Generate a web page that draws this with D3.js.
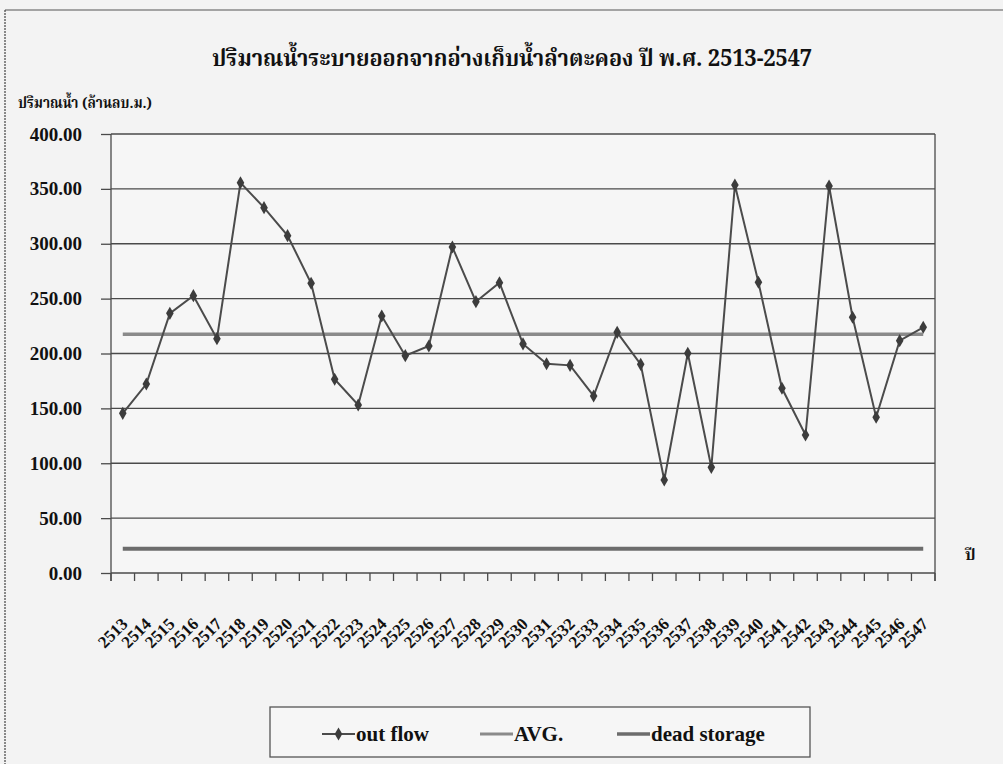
<!DOCTYPE html>
<html>
<head>
<meta charset="utf-8">
<script src="https://cdn.jsdelivr.net/npm/d3@7"></script>
<style>
  html, body { margin: 0; padding: 0; background: #f3f3f3; }
  svg { display: block; }
  .latin { font-family: "Liberation Serif", "Times New Roman", serif; font-weight: bold; fill: #111; }
  .thai { font-family: "Noto Serif Thai", "Noto Sans Thai", "Loma", "Garuda", "Liberation Serif", serif; font-weight: bold; fill: #111; }
</style>
</head>
<body>
<div id="chart"></div>
<script>
// Water released from Lam Takhong reservoir, B.E. 2513-2547 (million m³)
const years = ["2513","2514","2515","2516","2517","2518","2519","2520","2521","2522",
  "2523","2524","2525","2526","2527","2528","2529","2530","2531","2532",
  "2533","2534","2535","2536","2537","2538","2539","2540","2541","2542",
  "2543","2544","2545","2546","2547"];
const outFlow = [145.5,172.2,236.6,252.7,213.5,355.6,332.9,307.4,264.0,176.5,
  153.1,234.2,198.0,206.8,297.0,247.2,264.5,208.7,190.7,189.2,
  161.3,219.3,190.1,84.7,200.2,96.3,353.5,264.9,168.3,125.7,
  352.6,233.0,141.9,211.7,223.9];
const avgValue = 217.5;
const deadStorage = 22;
const yTicks = [0, 50, 100, 150, 200, 250, 300, 350, 400];
const legendItems = ["out flow", "AVG.", "dead storage"];

const W = 1003, H = 764;
const plot = { left: 111, right: 935, top: 134, bottom: 573 };

const svg = d3.select("#chart").append("svg").attr("width", W).attr("height", H);

// chart frame
svg.append("line").attr("x1", 5).attr("x2", W).attr("y1", 10).attr("y2", 10)
  .attr("stroke", "#555").attr("stroke-width", 1.2);
svg.append("line").attr("x1", 5).attr("x2", 5).attr("y1", 10).attr("y2", H)
  .attr("stroke", "#444").attr("stroke-width", 1.2).attr("stroke-dasharray", "2,1");

const x = d3.scaleBand().domain(years).range([plot.left, plot.right]).padding(0);
const cx = d => x(d) + x.bandwidth() / 2;
const y = d3.scaleLinear().domain([0, 400]).range([plot.bottom, plot.top]);

// plot area
svg.append("rect").attr("x", plot.left).attr("y", plot.top)
  .attr("width", plot.right - plot.left).attr("height", plot.bottom - plot.top)
  .attr("fill", "#f6f6f6");

// horizontal gridlines
svg.append("g").selectAll("line").data(yTicks).join("line")
  .attr("x1", plot.left).attr("x2", plot.right)
  .attr("y1", d => y(d)).attr("y2", d => y(d))
  .attr("stroke", "#4a4a4a").attr("stroke-width", 1.3);

// right border of plot area
svg.append("line").attr("x1", plot.right).attr("x2", plot.right)
  .attr("y1", plot.top).attr("y2", plot.bottom + 8)
  .attr("stroke", "#4a4a4a").attr("stroke-width", 1.3);

// y axis
const yAxis = svg.append("g").attr("transform", `translate(${plot.left},0)`)
  .call(d3.axisLeft(y).tickValues(yTicks).tickSize(10).tickPadding(19).tickFormat(d3.format(".2f")));
yAxis.select(".domain").attr("stroke", "#4a4a4a").attr("stroke-width", 1.3)
  .attr("d", `M0,${plot.top}V${plot.bottom + 8}`);
yAxis.selectAll(".tick line").attr("stroke", "#4a4a4a").attr("stroke-width", 1.3);
yAxis.selectAll(".tick text").attr("class", "latin").style("font-size", "19px");

// x axis ticks at category boundaries
const xTickPos = years.map(d => x(d)).concat([plot.right]);
svg.append("g").selectAll("line").data(xTickPos).join("line")
  .attr("x1", d => d).attr("x2", d => d)
  .attr("y1", plot.bottom).attr("y2", plot.bottom + 8)
  .attr("stroke", "#4a4a4a").attr("stroke-width", 1.3);

// x labels, rotated
svg.append("g").selectAll("text").data(years).join("text")
  .attr("class", "latin")
  .attr("text-anchor", "end")
  .attr("transform", d => `translate(${cx(d) + 6},${plot.bottom + 52}) rotate(-45)`)
  .style("font-size", "17px")
  .text(d => d);

// dead storage and average lines
const first = years[0], last = years[years.length - 1];
svg.append("line")
  .attr("x1", cx(first)).attr("x2", cx(last))
  .attr("y1", y(deadStorage)).attr("y2", y(deadStorage))
  .attr("stroke", "#6c6c6c").attr("stroke-width", 4);
svg.append("line")
  .attr("x1", cx(first)).attr("x2", cx(last))
  .attr("y1", y(avgValue)).attr("y2", y(avgValue))
  .attr("stroke", "#8a8a8a").attr("stroke-width", 3.5);

// out flow line with diamond markers
const line = d3.line().x((d, i) => cx(years[i])).y(d => y(d));
svg.append("path").datum(outFlow).attr("d", line)
  .attr("fill", "none").attr("stroke", "#4b4b4b").attr("stroke-width", 2);
const diamond = d3.symbol(d3.symbolDiamond, 50);
svg.append("g").selectAll("path").data(outFlow).join("path")
  .attr("d", diamond)
  .attr("transform", (d, i) => `translate(${cx(years[i])},${y(d)})`)
  .attr("fill", "#3c3c3c");

// title and axis titles
svg.append("text").attr("class", "thai")
  .attr("x", 512).attr("y", 66).attr("text-anchor", "middle")
  .attr("textLength", 600).attr("lengthAdjust", "spacingAndGlyphs")
  .style("font-size", "23px")
  .text("ปริมาณน้ำระบายออกจากอ่างเก็บน้ำลำตะคอง ปี พ.ศ. 2513-2547");
svg.append("text").attr("class", "thai")
  .attr("x", 18).attr("y", 108)
  .attr("textLength", 134).attr("lengthAdjust", "spacingAndGlyphs")
  .style("font-size", "15px")
  .text("ปริมาณน้ำ (ล้านลบ.ม.)");
svg.append("text").attr("class", "thai")
  .attr("x", 965).attr("y", 560)
  .style("font-size", "16px")
  .text("ปี");

// legend
const lg = svg.append("g");
lg.append("rect").attr("x", 270).attr("y", 707).attr("width", 540).attr("height", 50)
  .attr("fill", "#f6f6f6").attr("stroke", "#555").attr("stroke-width", 1.3);
const legendX = [322, 480, 617];
const legendStyle = [
  { stroke: "#4b4b4b", width: 2 },
  { stroke: "#8a8a8a", width: 3 },
  { stroke: "#6c6c6c", width: 3.5 }
];
const ly = 734;
legendItems.forEach((name, i) => {
  const x0 = legendX[i];
  lg.append("line").attr("x1", x0).attr("x2", x0 + 33).attr("y1", ly).attr("y2", ly)
    .attr("stroke", legendStyle[i].stroke).attr("stroke-width", legendStyle[i].width);
  if (i === 0) {
    lg.append("path").attr("d", diamond).attr("transform", `translate(${x0 + 16.5},${ly})`)
      .attr("fill", "#3c3c3c");
  }
  lg.append("text").attr("class", "latin")
    .attr("x", x0 + 34).attr("y", ly + 7)
    .style("font-size", "21px")
    .text(name);
});
</script>
</body>
</html>
